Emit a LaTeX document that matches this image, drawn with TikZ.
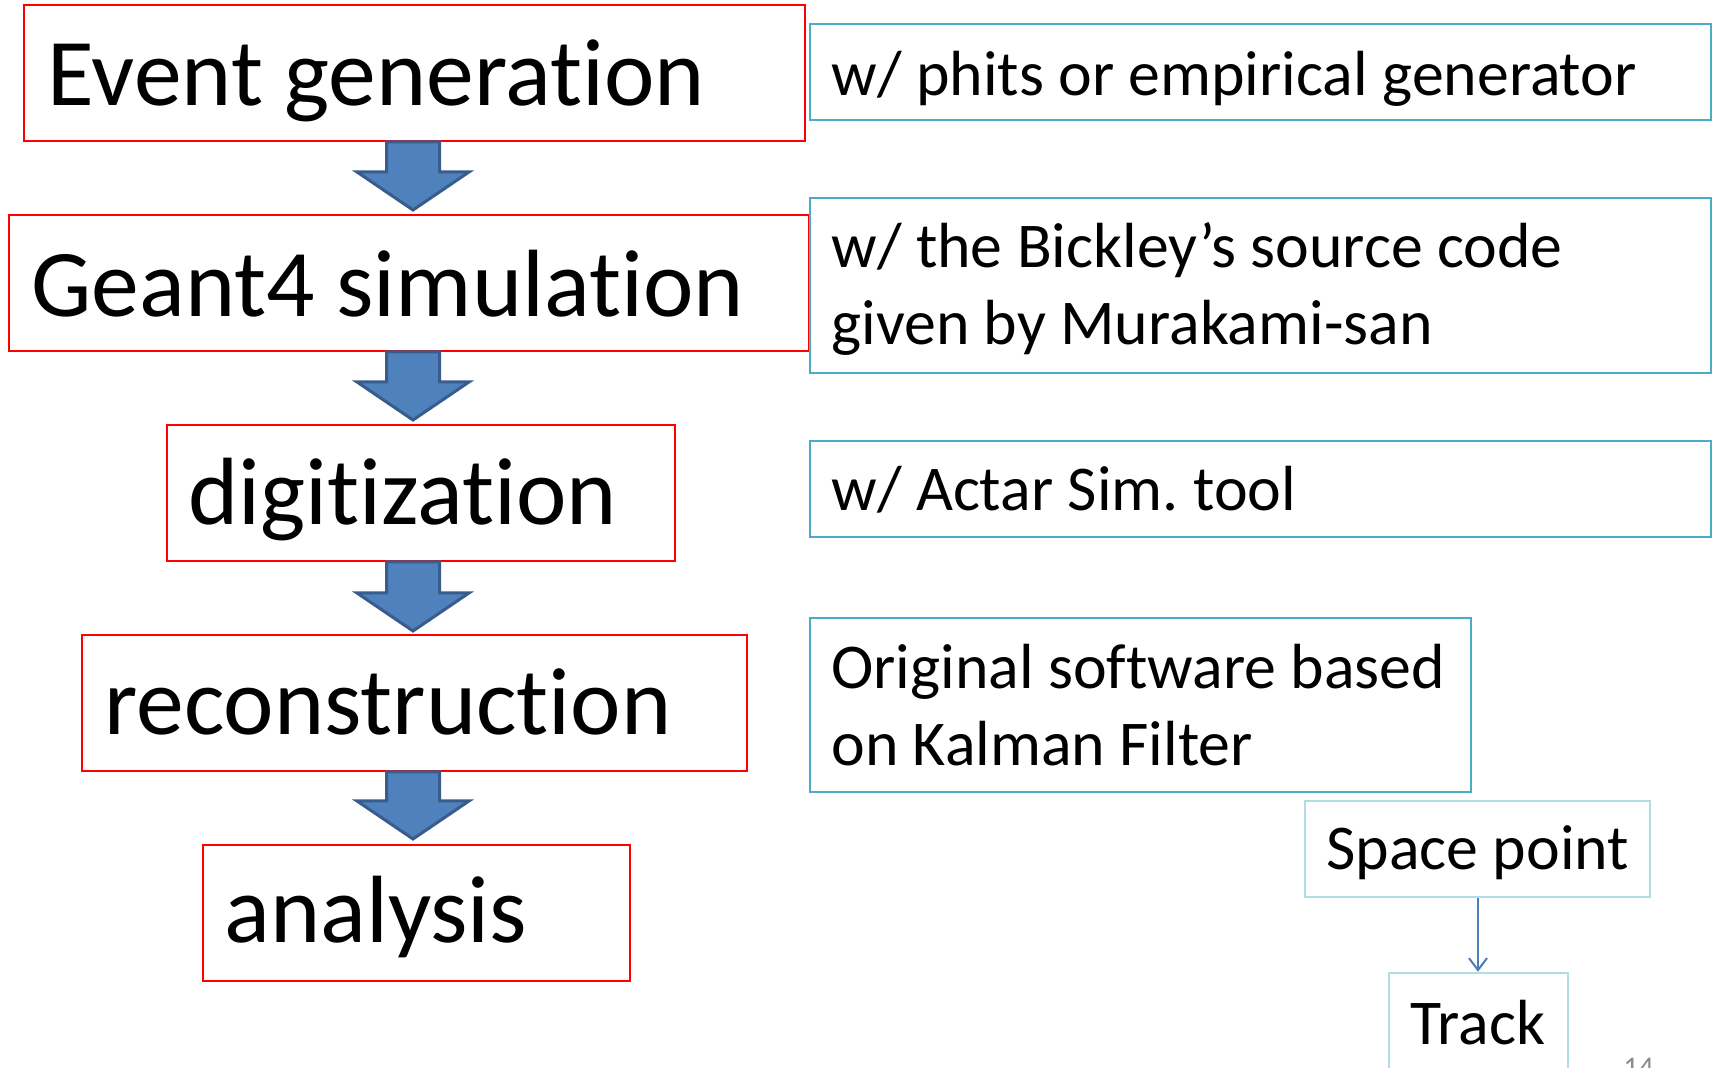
\documentclass[tikz,border=0pt]{standalone}
\usepackage{fontspec}
\setmainfont{Carlito}[RawFeature={-liga;-clig;-dlig;-calt}]
\usetikzlibrary{fit,arrows.meta}
\definecolor{boxred}{HTML}{FF0000}
\definecolor{boxcyan}{HTML}{4BACC6}
\definecolor{boxpale}{HTML}{B0DCE6}
\definecolor{arrfill}{HTML}{4F81BD}
\definecolor{arrline}{HTML}{385D8A}
\definecolor{conn}{HTML}{4A7EBB}
\definecolor{pagenum}{HTML}{8C8C8C}
\newcommand\blockarr[2]{%
  \draw[blockarrow] (386.5,#1) -- (439.5,#1) -- (439.5,#2-41) -- (469,#2-41)
    -- (413,#2-3) -- (357,#2-41) -- (386.5,#2-41) -- cycle;}
\frenchspacing
\begin{document}
\begin{tikzpicture}[x=0.5pt,y=-0.5pt,
  redbox/.style={draw=boxred, line width=1pt, inner sep=0pt},
  cyanbox/.style={draw=boxcyan, line width=1.2pt, inner sep=0pt},
  palebox/.style={draw=boxpale, line width=1.2pt, inner sep=0pt},
  bigtext/.style={anchor=base west, inner sep=0pt, font=\fontsize{47.8}{58}\selectfont},
  smalltext/.style={anchor=base west, inner sep=0pt, font=\fontsize{31.9}{38}\selectfont},
  blockarrow/.style={fill=arrfill, draw=arrline, line width=1.5pt, line join=miter},
  conn/.style={draw=conn, line width=1pt, -{Straight Barb[length=6pt,width=9pt,line width=1pt]}}]
\clip (0,0) rectangle (1715,1068);
\fill[white] (0,0) rectangle (1715,1068);

% left column boxes
\node[redbox, fit={(24,5.5) (805,141)}] (ev) {};
\node[bigtext] (evt) at (47,106) {Event generation};
\node[redbox, fit={(9,215) (809,351)}] (g4) {};
\node[bigtext] (g4t) at (31,317) {Geant4 simulation};
\node[redbox, fit={(167,425) (675,561)}] (dig) {};
\node[bigtext] (digt) at (188,525) {digitization};
\node[redbox, fit={(82,635) (747,771)}] (rec) {};
\node[bigtext] (rect) at (104,735) {reconstruction};
\node[redbox, fit={(203,845) (630,981)}] (ana) {};
\node[bigtext] (anat) at (224,943) {analysis};

% block arrows
\blockarr{142}{213}
\blockarr{352}{423}
\blockarr{562}{634}
\blockarr{772}{842}

% right column boxes
\node[cyanbox, fit={(810,24) (1711,120)}] (ra) {};
\node[smalltext] (rat) at (831,96) {w/ phits or empirical generator};
\node[cyanbox, fit={(810,198) (1711,373)}] (rb) {};
\node[smalltext] (rbt1) at (831,268) {w/ the Bickley’s source code};
\node[smalltext] (rbt2) at (831,345) {given by Murakami-san};
\node[cyanbox, fit={(810,441) (1711,537)}] (rc) {};
\node[smalltext] (rct) at (831,511) {w/ Actar Sim. tool};
\node[cyanbox, fit={(810,618) (1471,792)}] (rd) {};
\node[smalltext] (rdt1) at (831,689) {Original software based};
\node[smalltext] (rdt2) at (831,766) {on Kalman Filter};

% space point -> track
\node[palebox, fit={(1305,801) (1650,897)}] (sp) {};
\node[smalltext] (spt) at (1326,870) {Space point};
\node[palebox, fit={(1389,973) (1568,1090)}] (tr) {};
\node[smalltext] (trt) at (1410,1045) {Track};
\draw[conn] (sp.south -| 1478,0) -- (tr.north -| 1478,0);

\node[anchor=base west, inner sep=0pt, text=pagenum, font=\fontsize{15}{18}\selectfont] (pg) at (1623,1078) {14};
\end{tikzpicture}
\end{document}
